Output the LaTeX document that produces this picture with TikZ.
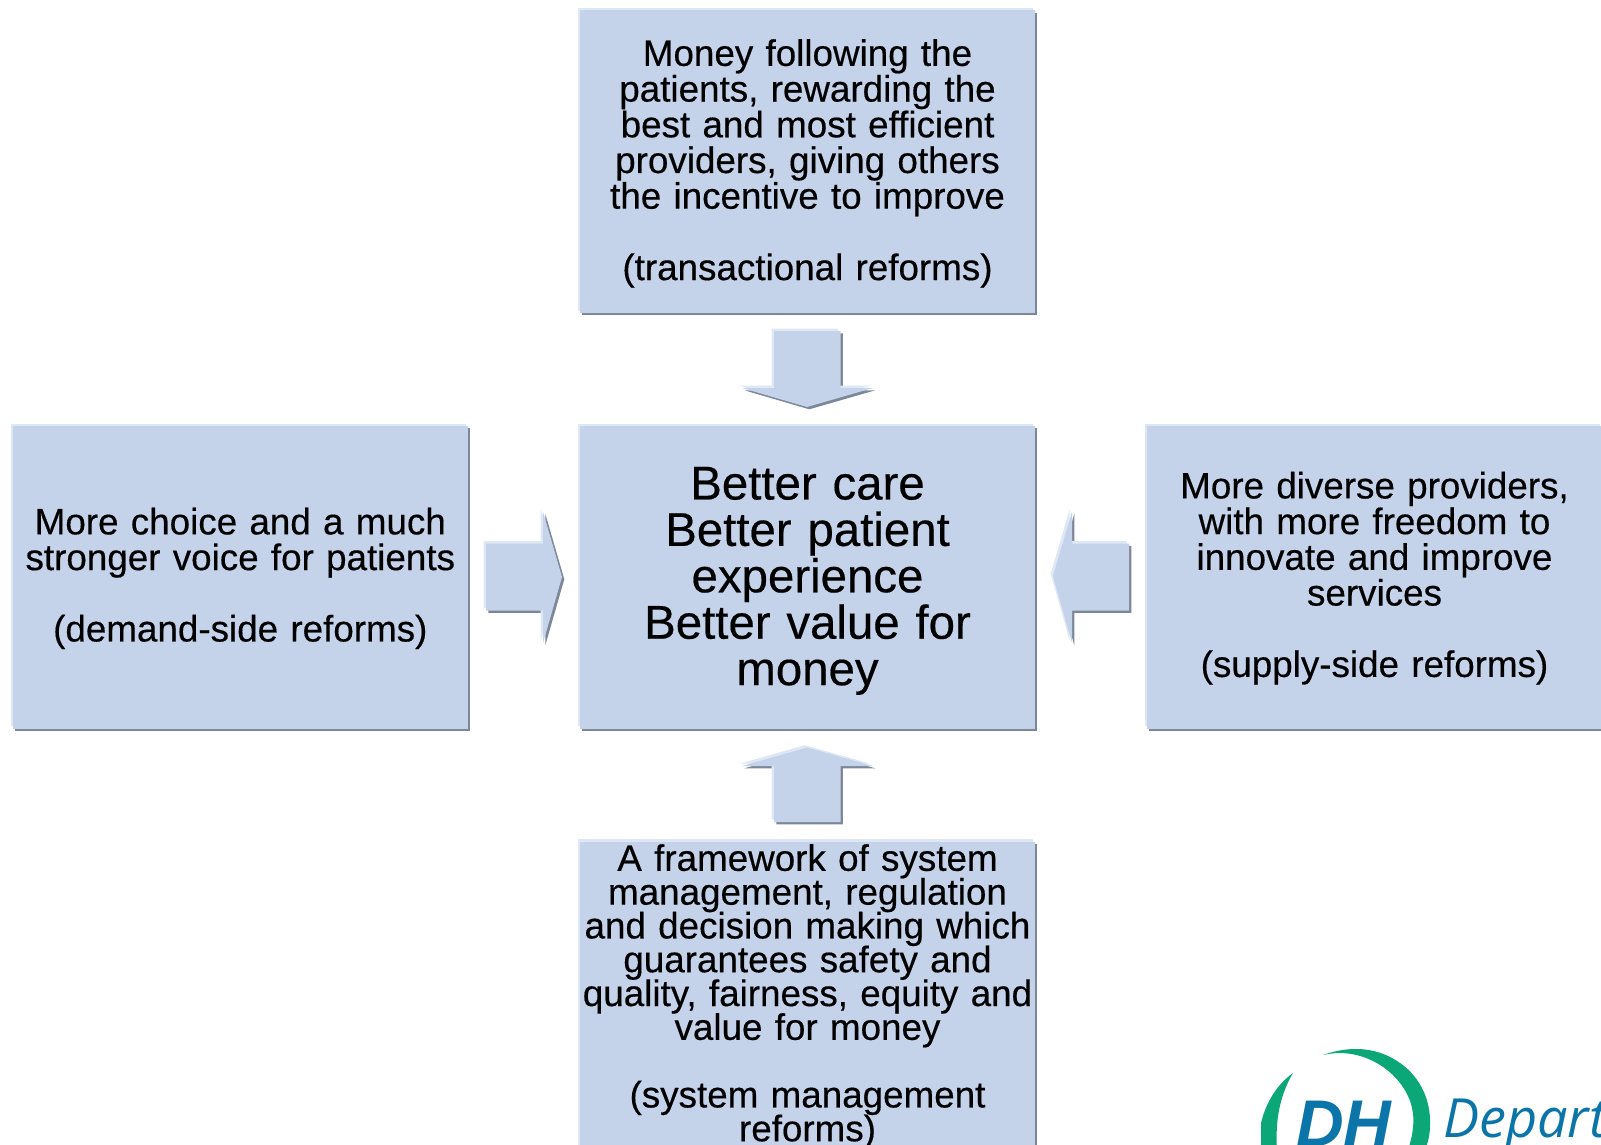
\documentclass[tikz,border=0pt]{standalone}
\usepackage{fontspec}
\setmainfont{Liberation Sans}[WordSpace=0.75,UprightFeatures={FakeBold=0.4}]
\newfontfamily\logofont{Open Sans}
\usetikzlibrary{shadows}
\definecolor{boxfill}{HTML}{C5D3EA}
\definecolor{boxlight}{HTML}{DEE7F4}
\definecolor{boxdark}{HTML}{7C8898}
\definecolor{dhgreen}{HTML}{0BA777}
\definecolor{dhblue}{HTML}{0B74A8}
\newcommand{\nudgedown}[1]{\par\kern-#1\relax}
\tikzset{
  bevel/.style={fill=boxfill,
    general shadow={shadow xshift=#1,shadow yshift=-#1,fill=boxdark},
    general shadow={shadow xshift=-#1,shadow yshift=#1,fill=boxlight}},
  panel/.style={bevel=2.3pt,rectangle,inner sep=0pt,minimum width=455pt,minimum height=302.5pt,
    align=center,text width=455pt,font=\fontsize{36.8pt}{35.7pt}\selectfont,
    execute at begin node={\lineskiplimit=-100pt\relax}},
  bigpanel/.style={panel,font=\fontsize{47.4pt}{46.4pt}\selectfont},
  tallpanel/.style={panel,minimum height=306pt,font=\fontsize{36.8pt}{33.8pt}\selectfont},
  blockarrow/.style={bevel=2.3pt},
}
\begin{document}
\begin{tikzpicture}[x=1pt,y=-1pt]
\useasboundingbox (0,0) rectangle (1601,1145);
\clip (0,0) rectangle (1601,1145);
\node[panel] (top) at (807.5,161.7) {Money following the\\patients, rewarding the\\best and most efficient\\providers, giving others\\the incentive to improve\\[35.7pt](transactional reforms)\nudgedown{3.5pt}};
\node[bigpanel] (centre) at (807.5,577.4) {Better care\\Better patient\\experience\\Better value for\\money\nudgedown{7pt}};
\node[panel] (left) at (240.3,577.4) {More choice and a much\\stronger voice for patients\\[35.7pt](demand-side reforms)\nudgedown{2pt}};
\node[panel] (right) at (1374.5,577.4) {More diverse providers,\\with more freedom to\\innovate and improve\\services\\[35.7pt](supply-side reforms)\nudgedown{1.5pt}};
\node[tallpanel] (bottom) at (807.5,994.5) {A framework of system\\management, regulation\\and decision making which\\guarantees safety and\\\mbox{quality, fairness, equity and}\\value for money\\[33.8pt](system management\\reforms)\nudgedown{4pt}};
% block arrows
\path[blockarrow] (774,331) -- (840.5,331) -- (840.5,388) -- (873,388) -- (807,407) -- (742,388) -- (774,388) -- cycle;
\path[blockarrow] (807,747.5) -- (873,766) -- (840.5,766) -- (840.5,822) -- (774,822) -- (774,766) -- (742,766) -- cycle;
\path[blockarrow] (486,543.5) -- (543,543.5) -- (543,511.5) -- (562,577) -- (543,643) -- (543,610.5) -- (486,610.5) -- cycle;
\path[blockarrow] (1053,576) -- (1072,511.5) -- (1072,543.5) -- (1129,543.5) -- (1129,610.5) -- (1072,610.5) -- (1072,643) -- cycle;
% logo
\begin{scope}
\clip (1261,1049) rectangle (1601,1145);
\fill[dhgreen] (1323,1055) .. controls (1345,1047) and (1370,1046) .. (1392,1058) .. controls (1420,1073) and (1431,1100) .. (1430,1125) .. controls (1430,1135) and (1428,1142) .. (1425,1150) -- (1408,1150) .. controls (1413,1135) and (1415,1120) .. (1412,1108) .. controls (1405,1075) and (1365,1045) .. (1323,1055) -- cycle;
\fill[dhgreen] (1293,1073) .. controls (1272,1088) and (1258,1115) .. (1258,1150) -- (1277,1150) .. controls (1275,1120) and (1280,1095) .. (1293,1073) -- cycle;
\node[anchor=base west,inner sep=0pt,text=dhblue,font=\fontsize{66pt}{66pt}\selectfont\bfseries\itshape] (dh) at (1296,1146) {DH};
\node[anchor=base west,inner sep=0pt,text=dhblue,font=\logofont\fontsize{54pt}{54pt}\selectfont\itshape] (dept) at (1443,1137) {Depart};
\end{scope}
\end{tikzpicture}
\end{document}
